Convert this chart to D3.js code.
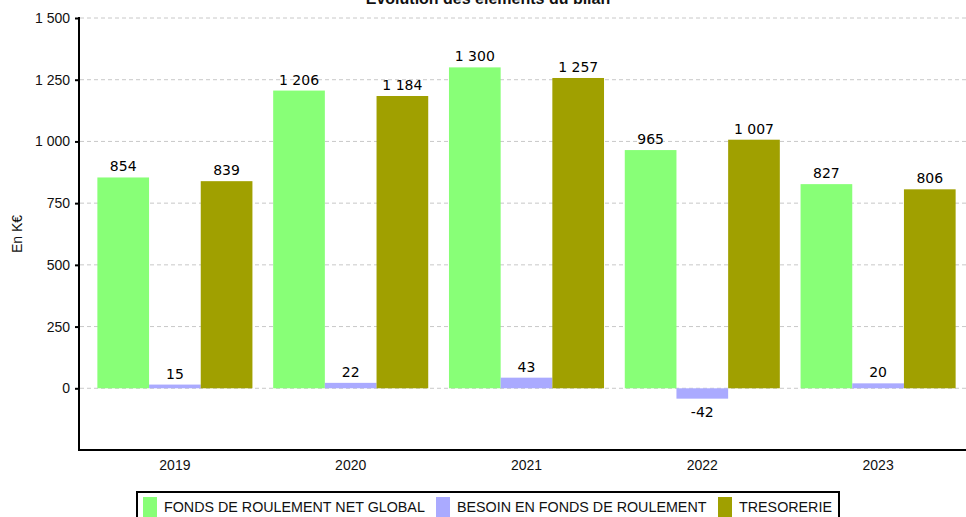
<!DOCTYPE html>
<html>
<head>
<meta charset="utf-8">
<script src="https://cdn.jsdelivr.net/npm/d3@7"></script>
<style>
  body { margin: 0; background: #fff; }
  svg { display: block; }
</style>
</head>
<body>
<div id="chart"></div>
<script>
// data
const years = ["2019", "2020", "2021", "2022", "2023"];
const seriesNames = ["FONDS DE ROULEMENT NET GLOBAL", "BESOIN EN FONDS DE ROULEMENT", "TRESORERIE"];
const frng = [854, 1206, 1300, 965, 827];
const bfr = [15, 22, 43, -42, 20];
const tresorerie = [839, 1184, 1257, 1007, 806];
const yTicks = [0, 250, 500, 750, 1000, 1250, 1500];
const colors = ["#88ff77", "#aaaaff", "#a0a000"];

const width = 966, height = 517;
const fr = d3.formatLocale({decimal: ",", thousands: " ", grouping: [3], currency: ["", " €"], minus: "-"});
const fmt = fr.format(",d");

const svg = d3.select("#chart")
    .append("svg")
    .attr("width", width)
    .attr("height", height)
    .style("font-family", "'Liberation Sans', Arial, sans-serif");

const rows = years.map((y, i) => ({year: y, values: [frng[i], bfr[i], tresorerie[i]]}));

const x0 = d3.scaleBand()
    .domain(years)
    .range([87, 966])
    .paddingInner(0.118)
    .paddingOuter(0.059);
const x1 = d3.scaleBand()
    .domain(d3.range(seriesNames.length))
    .range([0, x0.bandwidth()]);
const y = d3.scaleLinear()
    .domain([-250, 1500])
    .range([450, 18]);

// grid
svg.append("g")
    .selectAll("line")
    .data(yTicks)
    .join("line")
    .attr("x1", 80)
    .attr("x2", width)
    .attr("y1", d => y(d))
    .attr("y2", d => y(d))
    .attr("stroke", "#c8c8c8")
    .attr("stroke-dasharray", "4,3");

// bars
const groups = svg.append("g")
    .selectAll("g")
    .data(rows)
    .join("g")
    .attr("transform", d => `translate(${x0(d.year)},0)`);

groups.selectAll("rect")
    .data(d => d.values.map((v, k) => ({k: k, v: v})))
    .join("rect")
    .attr("x", d => x1(d.k))
    .attr("width", x1.bandwidth())
    .attr("y", d => y(Math.max(0, d.v)))
    .attr("height", d => Math.abs(y(d.v) - y(0)))
    .attr("fill", d => colors[d.k]);

groups.selectAll("text")
    .data(d => d.values.map((v, k) => ({k: k, v: v})))
    .join("text")
    .attr("x", d => x1(d.k) + x1.bandwidth() / 2)
    .attr("y", d => d.v >= 0 ? y(d.v) - 6 : y(d.v) + 18)
    .attr("text-anchor", "middle")
    .style("font-family", "'DejaVu Sans', sans-serif")
    .style("font-size", "14px")
    .attr("fill", "#000")
    .text(d => fmt(d.v));

// y axis
const yAxis = d3.axisLeft(y)
    .tickValues(yTicks)
    .tickSize(4)
    .tickPadding(5)
    .tickFormat(fmt);
const gy = svg.append("g")
    .attr("transform", "translate(79,0)")
    .call(yAxis);
gy.select(".domain").remove();
gy.append("line")
    .attr("y1", y(1500) - 1)
    .attr("y2", y(-250))
    .attr("stroke", "#000")
    .attr("stroke-width", 2);
gy.selectAll(".tick line").attr("stroke-width", 2);
gy.selectAll(".tick text")
    .style("font-family", "'Liberation Sans', Arial, sans-serif")
    .style("font-size", "14px")
    .attr("fill", "#111");

// x axis
const xAxis = d3.axisBottom(x0).tickSize(0).tickPadding(10);
const gx = svg.append("g")
    .attr("transform", `translate(0,${y(-250)})`)
    .call(xAxis);
gx.select(".domain").remove();
gx.append("line")
    .attr("x1", 78)
    .attr("x2", width)
    .attr("stroke", "#000")
    .attr("stroke-width", 2);
gx.selectAll(".tick text")
    .style("font-family", "'Liberation Sans', Arial, sans-serif")
    .style("font-size", "14px")
    .attr("fill", "#111");

// y title
svg.append("text")
    .attr("transform", `translate(22,${(y(1500) + y(-250)) / 2}) rotate(-90)`)
    .attr("text-anchor", "middle")
    .style("font-size", "14px")
    .attr("fill", "#111")
    .text("En K€");

// title (cut off at the top, as in the reference)
svg.append("text")
    .attr("x", 488)
    .attr("y", 4)
    .attr("text-anchor", "middle")
    .style("font-size", "16px")
    .style("font-weight", "bold")
    .attr("fill", "#111")
    .text("Évolution des éléments du bilan");

// legend
const legend = svg.append("g");
legend.append("rect")
    .attr("x", 137)
    .attr("y", 492)
    .attr("width", 702)
    .attr("height", 40)
    .attr("fill", "#fff")
    .attr("stroke", "#000")
    .attr("stroke-width", 2);
const legendX = [143, 436, 718];
const items = legend.selectAll("g")
    .data(seriesNames)
    .join("g")
    .attr("transform", (d, i) => `translate(${legendX[i]},497)`);
items.append("rect")
    .attr("width", 14)
    .attr("height", 20)
    .attr("fill", (d, i) => colors[i]);
items.append("text")
    .attr("x", 21)
    .attr("y", 15)
    .style("font-size", "14.3px")
    .attr("fill", "#111")
    .text(d => d);
</script>
</body>
</html>
